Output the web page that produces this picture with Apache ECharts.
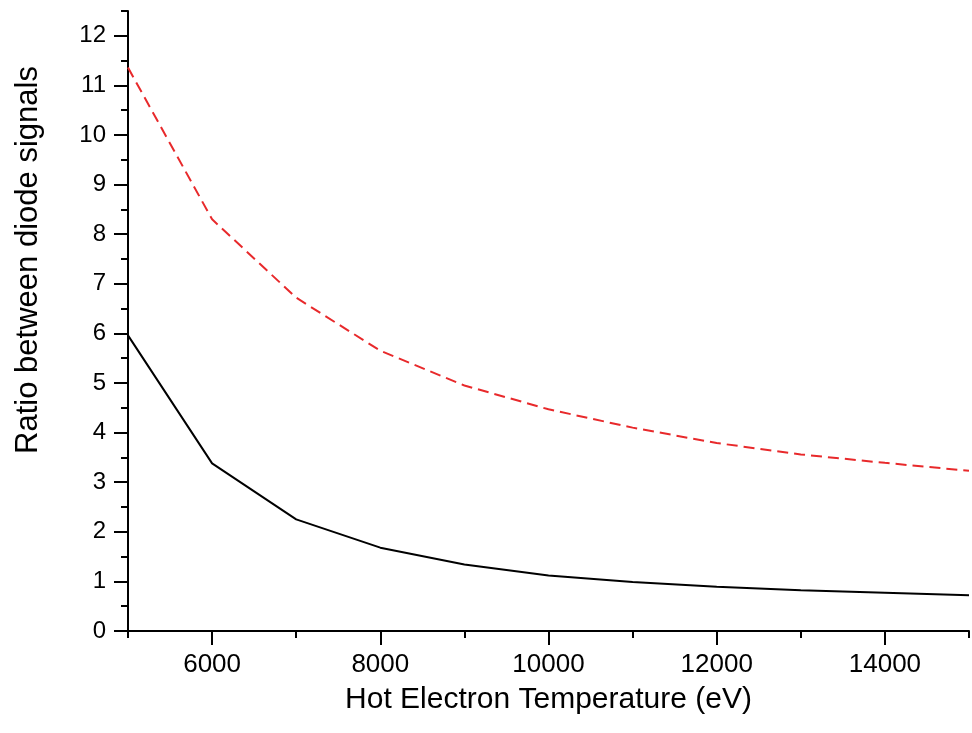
<!DOCTYPE html>
<html>
<head>
<meta charset="utf-8">
<script src="https://cdn.jsdelivr.net/npm/echarts@6/dist/echarts.min.js"></script>
<style>
html,body{margin:0;padding:0;background:#fff;}
#chart{width:972px;height:733px;}
</style>
</head>
<body>
<div id="chart"></div>
<script>
const temperatures = [5000, 6000, 7000, 8000, 9000, 10000, 11000, 12000, 13000, 14000, 15000];
const ratioSolid = [5.96, 3.38, 2.25, 1.68, 1.34, 1.12, 0.99, 0.89, 0.82, 0.77, 0.72];
const ratioDashed = [11.36, 8.3, 6.72, 5.65, 4.95, 4.47, 4.1, 3.79, 3.56, 3.39, 3.23];
const xMajorTicks = [6000, 8000, 10000, 12000, 14000];
const yMajorTicks = [0, 1, 2, 3, 4, 5, 6, 7, 8, 9, 10, 11, 12];
const xTitle = 'Hot Electron Temperature (eV)';
const yTitle = 'Ratio between diode signals';

const FONT = "'Liberation Sans', Arial, sans-serif";
const chart = echarts.init(document.getElementById('chart'), null, {renderer: 'canvas'});

function pairs(xs, ys) { return xs.map((x, i) => [x, ys[i]]); }

const option = {
  animation: false,
  backgroundColor: '#ffffff',
  grid: {left: 128, right: 0, top: 11, bottom: 102, containLabel: false},
  xAxis: [
    {
      type: 'value', min: 5000, max: 15000, interval: 1000,
      axisLine: {show: true, lineStyle: {color: '#000', width: 2}},
      axisTick: {show: true, inside: false, length: 7, lineStyle: {color: '#000', width: 2}},
      axisLabel: {
        show: true, margin: 21, color: '#000', fontSize: 26, fontFamily: FONT,
        formatter: v => (xMajorTicks.indexOf(v) >= 0 ? String(v) : '')
      },
      splitLine: {show: false},
      name: xTitle, nameLocation: 'middle', nameGap: 54,
      nameTextStyle: {color: '#000', fontSize: 30, fontFamily: FONT}
    },
    {
      type: 'value', min: 5000, max: 15000, interval: 1000, position: 'bottom',
      axisLine: {show: false},
      axisTick: {show: true, inside: false, length: 14, customValues: xMajorTicks, lineStyle: {color: '#000', width: 2}},
      axisLabel: {show: false},
      splitLine: {show: false}
    }
  ],
  yAxis: [
    {
      type: 'value', min: 0, max: 12.5, interval: 0.5,
      axisLine: {show: true, lineStyle: {color: '#000', width: 2}},
      axisTick: {show: true, inside: false, length: 7, lineStyle: {color: '#000', width: 2}},
      axisLabel: {
        show: true, margin: 22, color: '#000', fontSize: 24, fontFamily: FONT,
        formatter: v => (yMajorTicks.indexOf(v) >= 0 ? String(v) : '')
      },
      splitLine: {show: false}
    },
    {
      type: 'value', min: 0, max: 12.5, interval: 0.5, position: 'left',
      axisLine: {show: false},
      axisTick: {show: true, inside: false, length: 14, customValues: yMajorTicks, lineStyle: {color: '#000', width: 2}},
      axisLabel: {show: false},
      splitLine: {show: false}
    }
  ],
  graphic: [
    {
      type: 'text', x: 28, y: 260, rotation: Math.PI / 2,
      style: {text: yTitle, fill: '#000', font: "31px 'Liberation Sans', Arial, sans-serif", textAlign: 'center', textVerticalAlign: 'middle'}
    }
  ],
  series: [
    {
      type: 'line', xAxisIndex: 0, yAxisIndex: 0,
      data: pairs(temperatures, ratioSolid),
      showSymbol: false, symbol: 'none',
      lineStyle: {color: '#000', width: 2, type: 'solid'}
    },
    {
      type: 'line', xAxisIndex: 0, yAxisIndex: 0,
      data: pairs(temperatures, ratioDashed),
      showSymbol: false, symbol: 'none',
      lineStyle: {color: '#e8292b', width: 2, type: [11, 6]}
    }
  ]
};
chart.setOption(option);
</script>
</body>
</html>
